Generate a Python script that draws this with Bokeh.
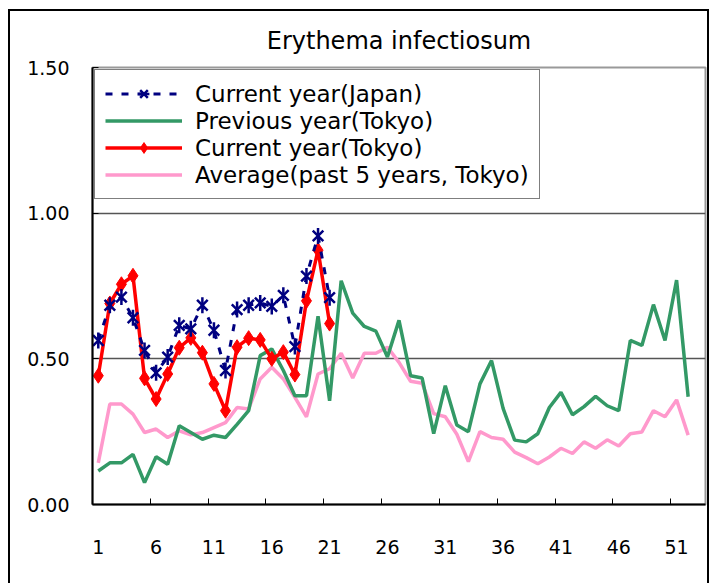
from bokeh.plotting import figure
from bokeh.models import Range1d, FixedTicker, Legend, LegendItem, NumeralTickFormatter
from bokeh.embed import file_html
from bokeh.resources import INLINE

weeks_all = list(range(1, 53))
weeks_current = list(range(1, 22))

japan_current = [0.563, 0.684, 0.712, 0.641, 0.529, 0.452, 0.506, 0.615, 0.603, 0.684,
                 0.598, 0.460, 0.669, 0.684, 0.692, 0.680, 0.718, 0.542, 0.784, 0.922, 0.710]

tokyo_current = [0.442, 0.690, 0.756, 0.785, 0.433, 0.362, 0.448, 0.538, 0.572, 0.521,
                 0.414, 0.322, 0.540, 0.571, 0.565, 0.500, 0.523, 0.446, 0.699, 0.873, 0.621]

tokyo_previous = [0.115, 0.143, 0.143, 0.172, 0.075, 0.164, 0.138, 0.270, 0.247, 0.224,
                  0.238, 0.230, 0.275, 0.322, 0.511, 0.534, 0.460, 0.373, 0.373, 0.646,
                  0.356, 0.768, 0.657, 0.611, 0.595, 0.506, 0.632, 0.442, 0.434, 0.243,
                  0.408, 0.273, 0.250, 0.414, 0.494, 0.330, 0.221, 0.215, 0.243, 0.333,
                  0.385, 0.308, 0.336, 0.371, 0.339, 0.322, 0.563, 0.546, 0.686, 0.563,
                  0.770, 0.370]

tokyo_average = [0.143, 0.345, 0.345, 0.310, 0.247, 0.259, 0.230, 0.253, 0.239, 0.247,
                 0.264, 0.281, 0.333, 0.328, 0.431, 0.471, 0.431, 0.368, 0.301, 0.448,
                 0.466, 0.519, 0.434, 0.519, 0.519, 0.540, 0.488, 0.423, 0.416, 0.312,
                 0.301, 0.241, 0.147, 0.250, 0.230, 0.224, 0.180, 0.161, 0.140, 0.163,
                 0.193, 0.175, 0.215, 0.193, 0.222, 0.201, 0.243, 0.249, 0.322, 0.301,
                 0.359, 0.238]

x_tick_labels = [1, 6, 11, 16, 21, 26, 31, 36, 41, 46, 51]
y_ticks = [0.0, 0.5, 1.0, 1.5]
y_grid = [0.5, 1.0]

FONT = "DejaVu Sans"

p = figure(width=697, height=572, output_backend="svg", toolbar_location=None,
           x_range=Range1d(0.5, 53.5), y_range=Range1d(0, 1.5),
           min_border_left=82, min_border_right=6, min_border_top=56, min_border_bottom=81,
           title="Erythema infectiosum")
p.margin = (9, 0, 0, 8)
p.styles = {"border-left": "2px solid black", "border-top": "2px solid black",
            "border-right": "2px solid black", "box-sizing": "content-box"}

p.title.align = "center"
p.title.vertical_align = "middle"
p.title.text_font = FONT
p.title.text_font_size = "24px"
p.title.text_font_style = "normal"
p.title.text_color = "black"
p.title.standoff = 24

p.outline_line_color = "#999999"
p.outline_line_width = 2

p.xgrid.visible = False
p.ygrid.ticker = FixedTicker(ticks=y_grid)
p.ygrid.grid_line_color = "#555555"
p.ygrid.grid_line_width = 1.5

p.xaxis.ticker = FixedTicker(ticks=x_tick_labels, minor_ticks=[t - 0.5 for t in x_tick_labels[1:]])
p.xaxis.major_tick_line_color = None
p.xaxis.minor_tick_in = 6
p.xaxis.minor_tick_out = 0
p.xaxis.minor_tick_line_color = "black"
p.xaxis.axis_line_color = "black"
p.xaxis.axis_line_width = 2
p.xaxis.major_label_standoff = 29
p.xaxis.major_label_text_font = FONT
p.xaxis.major_label_text_font_size = "19px"
p.xaxis.major_label_text_color = "black"

p.yaxis.ticker = FixedTicker(ticks=y_ticks)
p.yaxis.formatter = NumeralTickFormatter(format="0.00")
p.yaxis.major_tick_in = 6
p.yaxis.major_tick_out = 0
p.yaxis.major_tick_line_color = "black"
p.yaxis.axis_line_color = "black"
p.yaxis.axis_line_width = 2
p.yaxis.major_label_standoff = 23
p.yaxis.major_label_text_font = FONT
p.yaxis.major_label_text_font_size = "19px"
p.yaxis.major_label_text_color = "black"

avg = p.line(weeks_all, tokyo_average, line_color="#FF99CC", line_width=3.5)
prev = p.line(weeks_all, tokyo_previous, line_color="#339966", line_width=3.5)
cur_line = p.line(weeks_current, tokyo_current, line_color="#FF0000", line_width=3.5)
cur_pts = p.scatter(weeks_current, tokyo_current, marker="diamond", size=15,
                    fill_color="#FF0000", line_color="#FF0000")
jp_line = p.line(weeks_current, japan_current, line_color="#000080", line_width=3,
                 line_dash="7 9")
jp_x = p.scatter(weeks_current, japan_current, marker="x", size=15,
                 line_color="#000080", line_width=2.5)
jp_v = p.scatter(weeks_current, japan_current, marker="dash", size=16, angle=1.5708,
                 line_color="#000080", line_width=2.5)

legend = Legend(items=[
    LegendItem(label="Current year(Japan)", renderers=[jp_line, jp_x, jp_v]),
    LegendItem(label="Previous year(Tokyo)", renderers=[prev]),
    LegendItem(label="Current year(Tokyo)", renderers=[cur_line, cur_pts]),
    LegendItem(label="Average(past 5 years, Tokyo)", renderers=[avg]),
], location="top_left")
legend.margin = 2
legend.padding = 10
legend.spacing = 0
legend.glyph_width = 77
legend.glyph_height = 27
legend.label_height = 27
legend.label_standoff = 13
legend.label_text_font = FONT
legend.label_text_font_size = "23px"
legend.label_text_color = "black"
legend.border_line_color = "black"
legend.border_line_width = 1.5
legend.background_fill_alpha = 1
p.add_layout(legend)

open("out.html", "w").write(file_html(p, INLINE))
